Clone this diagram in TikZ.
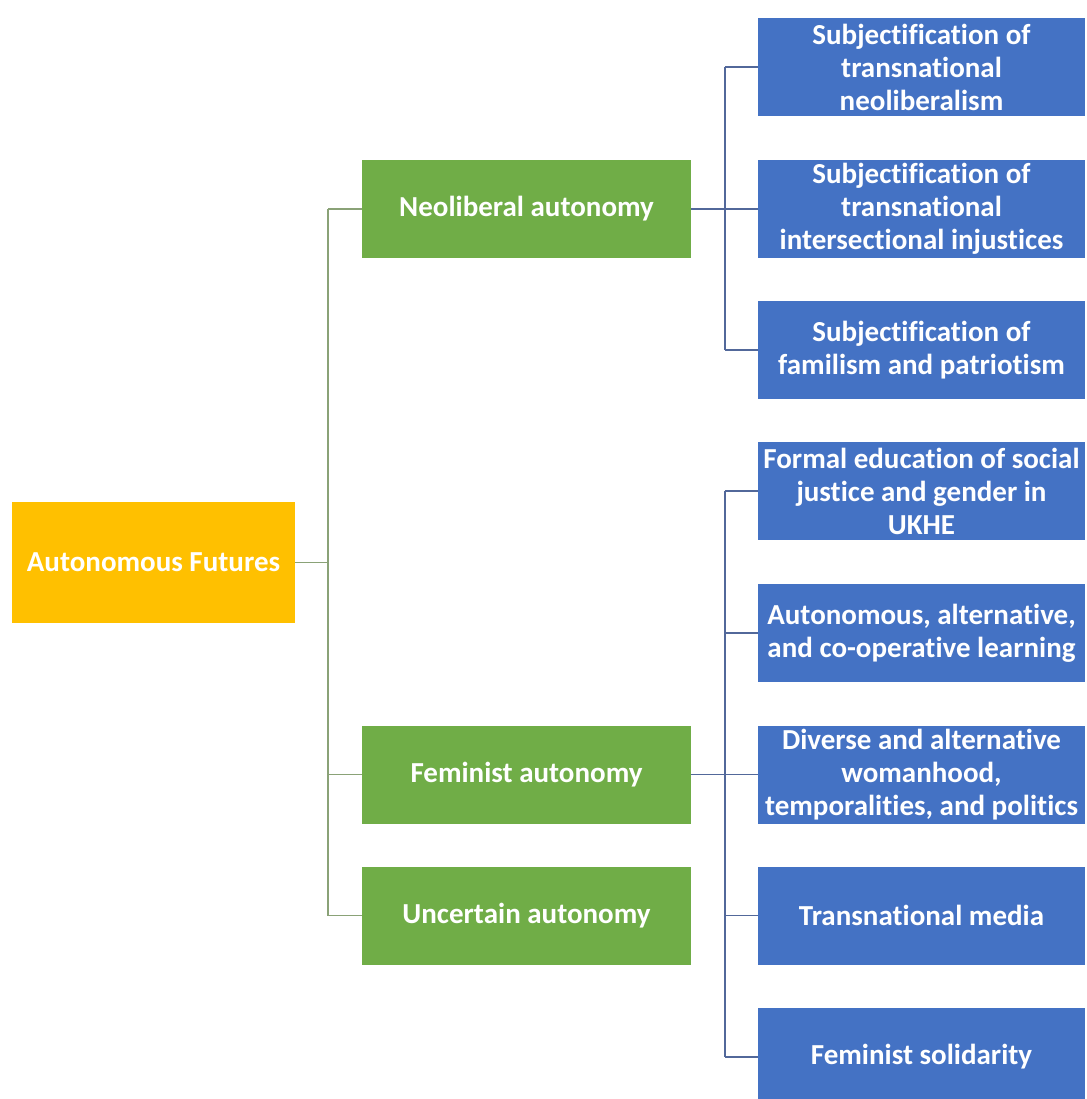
\documentclass[tikz,border=0pt]{standalone}
\usepackage{fontspec}
\setmainfont{Carlito}[Ligatures=NoCommon]
\definecolor{rootfill}{HTML}{FFC000}
\definecolor{midfill}{HTML}{70AD47}
\definecolor{leaffill}{HTML}{4472C4}
\definecolor{midline}{HTML}{8AA277}
\definecolor{leafline}{HTML}{52689A}
\begin{document}
\begin{tikzpicture}[x=1pt,y=-1pt,
  box/.style={rectangle, inner sep=0pt, align=center, text=white,
    font=\fontsize{29}{33}\selectfont\bfseries},
  rootbox/.style={box, fill=rootfill, minimum width=283pt, minimum height=121pt},
  midbox/.style={box, fill=midfill, minimum width=329pt, minimum height=98pt},
  leafbox/.style={box, fill=leaffill, minimum width=327pt, minimum height=98pt},
  midlink/.style={draw=midline, line width=1.6pt},
  leaflink/.style={draw=leafline, line width=1.6pt}]
\useasboundingbox (0,0) rectangle (1086,1099);
\clip (0,0) rectangle (1086,1099);
\fill[white] (0,0) rectangle (1086,1099);

% root
\node[rootbox] (root) at (153.5,562.5) {Autonomous Futures};

% second level
\node[midbox] (neo) at (526.5,209) {Neoliberal autonomy};
\node[midbox] (fem) at (526.5,774.5) {Feminist autonomy};
\node[midbox] (unc) at (526.5,915.5) {Uncertain autonomy};

% leaves of the neoliberal branch
\node[leafbox] (n1) at (921.5,67) {Subjectification of\\transnational\\neoliberalism};
\node[leafbox] (n2) at (921.5,209) {Subjectification of\\transnational\\intersectional injustices};
\node[leafbox] (n3) at (921.5,350) {Subjectification of\\familism and patriotism};

% leaves of the feminist branch
\node[leafbox] (f1) at (921.5,491) {Formal education of social\\justice and gender in\\UKHE};
\node[leafbox] (f2) at (921.5,633) {Autonomous, alternative,\\and co-operative learning};
\node[leafbox] (f3) at (921.5,774.5) {Diverse and alternative\\womanhood,\\temporalities, and politics};
\node[leafbox] (f4) at (921.5,915.5) {Transnational media};
\node[leafbox] (f5) at (921.5,1057) {Feminist solidarity};

% trunk positions
\coordinate (gt) at (328,562.5);
\coordinate (bt) at (725,0);

% root to second level
\draw[midlink] (root.east) -- (gt);
\draw[midlink] (neo.west -| gt) -- (unc.west -| gt);
\foreach \m in {neo,fem,unc}
  \draw[midlink] (\m.west -| gt) -- (\m.west);

% neoliberal branch
\draw[leaflink] (n1.west -| bt) -- (n3.west -| bt);
\draw[leaflink] (neo.east) -- (n2.west);
\foreach \l in {n1,n3}
  \draw[leaflink] (\l.west -| bt) -- (\l.west);

% feminist branch
\draw[leaflink] (f1.west -| bt) -- (f5.west -| bt);
\draw[leaflink] (fem.east) -- (f3.west);
\foreach \l in {f1,f2,f4,f5}
  \draw[leaflink] (\l.west -| bt) -- (\l.west);
\end{tikzpicture}
\end{document}
